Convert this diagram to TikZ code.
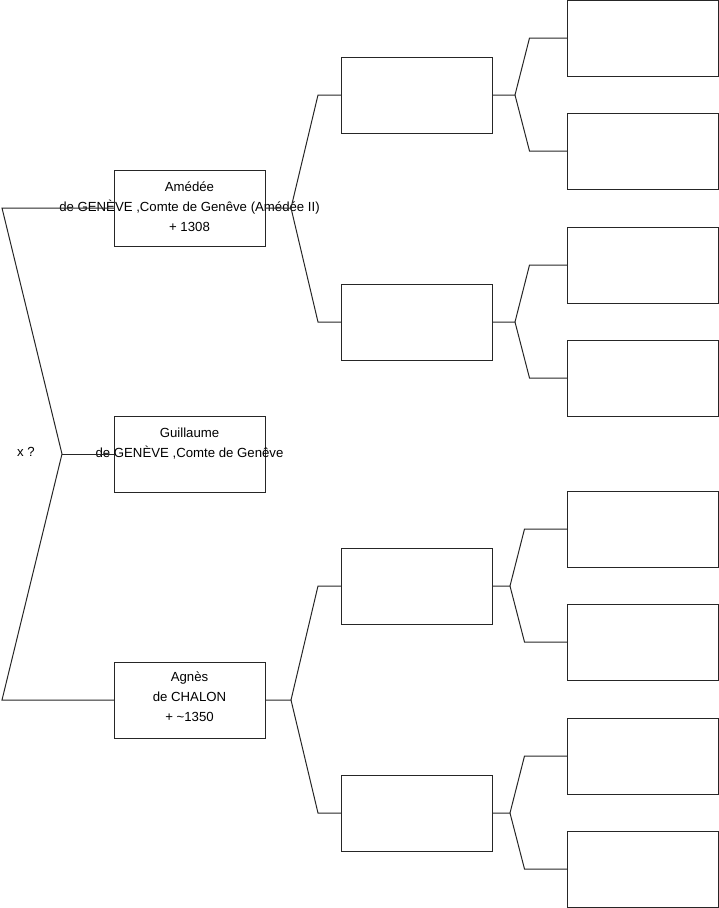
\documentclass[tikz,border=0pt]{standalone}
\usepackage{fontspec}
\setmainfont{Liberation Sans}
\usetikzlibrary{positioning,calc}
\colorlet{boxline}{black!85}
\tikzset{
  every node/.style={font=\fontsize{13.2}{19.6}\selectfont},
  person/.style={draw=boxline,line width=1pt,fill=none,minimum width=151pt,
                 minimum height=76pt,inner sep=0pt,outer sep=0pt},
  ptext/.style={align=center,anchor=north,inner sep=0pt},
  link/.style={draw=boxline,line width=1pt},
}

\begin{document}
\begin{tikzpicture}[x=1pt,y=-1pt]
  \useasboundingbox (0,0) rectangle (719,908);

  % generation 1 (column centre 189.5)
  \node[person] (amedee)    at (189.5,208) {};
  \node[person] (guillaume) at (189.5,454) {};
  \node[person] (agnes)     at (189.5,700) {};
  \node[ptext] at ([yshift=-12pt]amedee.north)
    {Amédée\\de GENÈVE ,Comte de Genêve (Amédée II)\\+ 1308};
  \node[ptext] at ([yshift=-12pt]guillaume.north)
    {Guillaume\\de GENÈVE ,Comte de Genêve};
  \node[ptext] at ([yshift=-10pt]agnes.north)
    {Agnès\\de CHALON\\+ \textasciitilde1350};

  % generation 2 (column centre 416.5)
  \node[person] (p1) at (416.5,95)  {};
  \node[person] (p2) at (416.5,322) {};
  \node[person] (p3) at (416.5,586) {};
  \node[person] (p4) at (416.5,813) {};

  % generation 3 (column centre 643)
  \node[person] (q1) at (643,38)  {};
  \node[person] (q2) at (643,151) {};
  \node[person] (q3) at (643,265) {};
  \node[person] (q4) at (643,378) {};
  \node[person] (q5) at (643,529) {};
  \node[person] (q6) at (643,642) {};
  \node[person] (q7) at (643,756) {};
  \node[person] (q8) at (643,869) {};

  % couple
  \coordinate (root) at (62,454);
  \node (xq) at (26,452) {x ?};
  \draw[link] (amedee.west) -- ($(amedee.west)+(-112,0)$) -- (root)
    -- ($(agnes.west)+(-112,0)$) -- (agnes.west);
  \draw[link] (root) -- (guillaume.west);

  % forks generation 1 -> 2
  \foreach \c/\a/\b in {amedee/p1/p2,agnes/p3/p4}{
    \draw[link] (\c.east) -- ++(26,0) coordinate (f\c)
      -- ($(\a.west)+(-23,0)$) -- (\a.west);
    \draw[link] (f\c) -- ($(\b.west)+(-23,0)$) -- (\b.west);
  }

  % forks generation 2 -> 3
  \foreach \c/\a/\b/\s/\e in {p1/q1/q2/23/38,p2/q3/q4/23/38,p3/q5/q6/18/43,p4/q7/q8/18/43}{
    \draw[link] (\c.east) -- ++(\s,0) coordinate (f\c)
      -- ($(\a.west)+(-\e,0)$) -- (\a.west);
    \draw[link] (f\c) -- ($(\b.west)+(-\e,0)$) -- (\b.west);
  }
\end{tikzpicture}
\end{document}
